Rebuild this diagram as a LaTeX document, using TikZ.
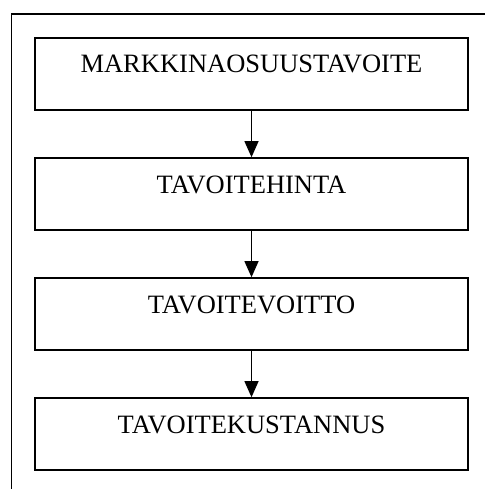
\documentclass[tikz,border=0pt]{standalone}
\usepackage{fontspec}
\setmainfont{Liberation Serif}
\usetikzlibrary{arrows.meta}
\tikzset{
  stage/.style={draw,line width=1.6pt,minimum width=433pt,minimum height=72pt,
    inner sep=0pt,text height=18pt,text depth=20pt,
    font=\fontsize{26.5}{30}\selectfont},
  flow/.style={line width=1pt,-{Triangle[width=14pt,length=16pt]}}
}
\begin{document}
\begin{tikzpicture}[x=1pt,y=-1pt]
    \useasboundingbox (0,0) rectangle (485,489);
    \draw[line width=1.6pt] (11.5,489) -- (11.5,14) -- (485,14);
    \node[stage] (tavoite) at (251.5,74) {MARKKINAOSUUSTAVOITE};
    \node[stage] (hinta) at (251.5,194) {TAVOITEHINTA};
    \node[stage] (voitto) at (251.5,314) {TAVOITEVOITTO};
    \node[stage] (kustannus) at (251.5,434) {TAVOITEKUSTANNUS};
    \draw[flow] (tavoite) -- (hinta);
    \draw[flow] (hinta) -- (voitto);
    \draw[flow] (voitto) -- (kustannus);
  \end{tikzpicture}
\end{document}
